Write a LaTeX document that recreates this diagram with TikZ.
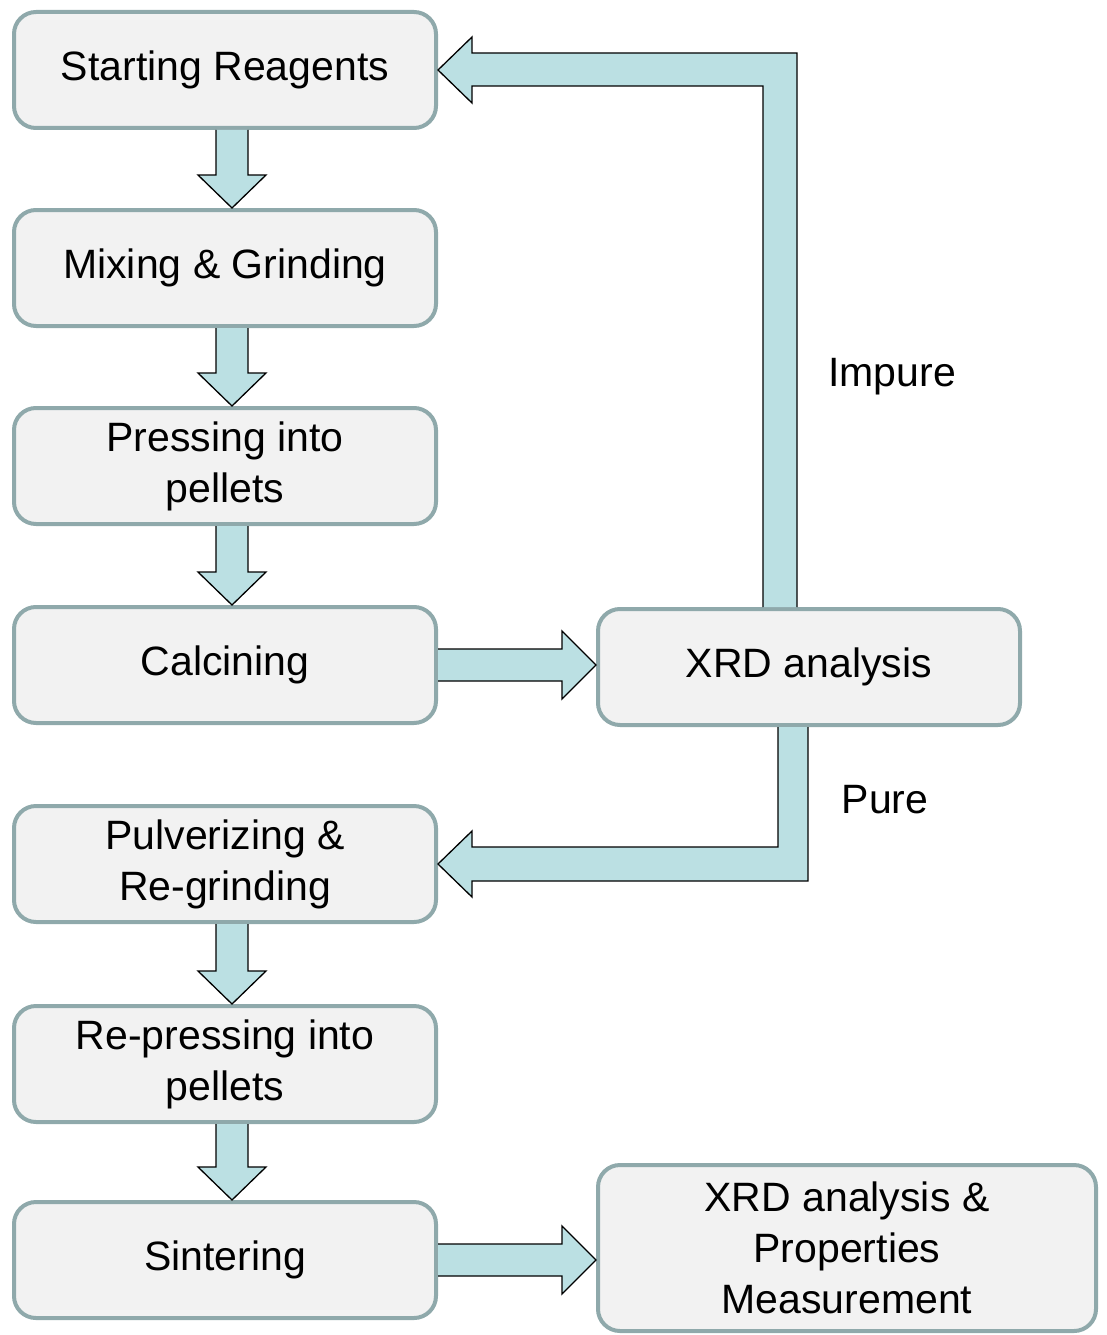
\documentclass[tikz,border=0pt]{standalone}
\usepackage{fontspec}
\setmainfont{Liberation Sans}
\usetikzlibrary{
	positioning,
	calc
}

\definecolor{boxfill}{HTML}{F2F2F2}
\definecolor{boxline}{HTML}{8FA9AB}
\definecolor{flowfill}{HTML}{BBE0E3}

\tikzset{
	stage/.style={draw=boxline, line width=4pt, fill=boxfill,
		rounded corners=22pt, minimum width=422pt, minimum height=116pt,
		align=center, font=\fontsize{41}{51}\selectfont},
	flow/.style={fill=flowfill, draw=black, line width=1.3pt, line join=miter},
	note/.style={font=\fontsize{41}{51}\selectfont}
}

% block arrow from one stage down to the next
\newcommand{\downflow}[2]{%
	\draw[flow] ($(#1.south)+(-9,0)$) -- ($(#2.north)+(-9,-33)$)
		-- ($(#2.north)+(-27,-33)$) -- ($(#2.north)+(7,0)$)
		-- ($(#2.north)+(41,-33)$) -- ($(#2.north)+(23,-33)$)
		-- ($(#1.south)+(23,0)$);
}
% block arrow from one stage right to another
\newcommand{\rightflow}[2]{%
	\draw[flow] ($(#1.east)+(0,-16)$) -- ($(#2.west |- #1.east)+(-34,-16)$)
		-- ($(#2.west |- #1.east)+(-34,-34)$) -- (#2.west |- #1.east)
		-- ($(#2.west |- #1.east)+(-34,34)$) -- ($(#2.west |- #1.east)+(-34,16)$)
		-- ($(#1.east)+(0,16)$);
}

\begin{document}
\begin{tikzpicture}[x=1pt, y=-1pt]
	\useasboundingbox (0,0) rectangle (1107,1335);

	\node[stage]                    (start)  at (225,70) {Starting Reagents};
	\node[stage,below=78pt of start] (mix)    {Mixing \& Grinding};
	\node[stage,below=78pt of mix]   (press)  {Pressing into\\pellets};
	\node[stage,below=79pt of press] (calc)   {Calcining};
	\node[stage,below=79pt of calc]  (pulv)   {Pulverizing \&\\Re-grinding};
	\node[stage,below=80pt of pulv]  (repress){Re-pressing into\\pellets};
	\node[stage,below=76pt of repress] (sinter) {Sintering};

	\node[stage]                     (xrd)    at (809,667) {XRD analysis};
	\node[stage,minimum width=498pt,minimum height=166pt]
	                                 (final)  at (847,1248) {XRD analysis \&\\Properties\\Measurement};

	\downflow{start}{mix}
	\downflow{mix}{press}
	\downflow{press}{calc}
	\downflow{pulv}{repress}
	\downflow{repress}{sinter}

	\rightflow{calc}{xrd}
	\rightflow{sinter}{final}

	% impure: back to the start
	\coordinate (imp) at ($(xrd.north)+(-29,0)$);
	\draw[flow] ($(imp)+(-17,0)$) -- ($(imp |- start.east)+(-17,16)$)
		-- ($(start.east)+(34,16)$) -- ($(start.east)+(34,33)$) -- (start.east)
		-- ($(start.east)+(34,-33)$) -- ($(start.east)+(34,-17)$)
		-- ($(imp |- start.east)+(17,-17)$) -- ($(imp)+(17,0)$);
	\node[note] (impure) at (892,377) {Impure};

	% pure: on to pulverizing
	\coordinate (pur) at ($(xrd.south)+(-16,0)$);
	\draw[flow] ($(pur)+(-15,0)$) -- ($(pur |- pulv.east)+(-15,-17)$)
		-- ($(pulv.east)+(34,-17)$) -- ($(pulv.east)+(34,-33)$) -- (pulv.east)
		-- ($(pulv.east)+(34,33)$) -- ($(pulv.east)+(34,17)$)
		-- ($(pur |- pulv.east)+(15,17)$) -- ($(pur)+(15,0)$);
	\node[note] (pure) at (885,800) {Pure};
\end{tikzpicture}
\end{document}
